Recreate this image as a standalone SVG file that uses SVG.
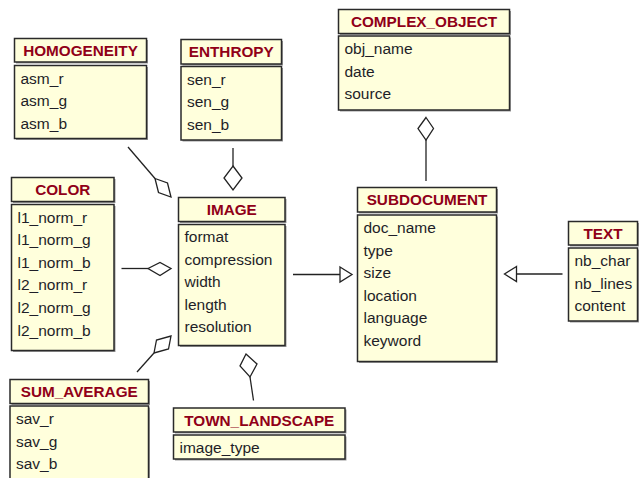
<svg xmlns="http://www.w3.org/2000/svg" width="639" height="478" viewBox="0 0 639 478">
<style>
.sh{fill:#9a9a9a}
.bx{fill:#FFFFDC;stroke:#2a2a2a;stroke-width:1.5}
.hd{font-family:"Liberation Sans",Arial,sans-serif;font-size:15.3px;font-weight:bold;fill:#900018;text-anchor:middle}
.at{font-family:"Liberation Sans",Arial,sans-serif;font-size:15.5px;fill:#1e1e28}
.ln{fill:none;stroke:#222;stroke-width:1.3}
.dm{fill:#fff;stroke:#222;stroke-width:1.3;stroke-linejoin:miter}
</style>
<rect width="639" height="478" fill="#fff"/>

<g id="connectors">
  <!-- HOMOGENEITY -> IMAGE aggregation -->
  <line class="ln" x1="128" y1="147" x2="155" y2="178.5"/>
  <polygon class="dm" points="155,178.5 167.5,183 171,197 158.5,192.5"/>
  <!-- ENTHROPY -> IMAGE -->
  <line class="ln" x1="233" y1="148" x2="233" y2="166"/>
  <polygon class="dm" points="233,166 242,178 233,190 224,178"/>
  <!-- COLOR -> IMAGE -->
  <line class="ln" x1="121.5" y1="268.5" x2="148" y2="268.5"/>
  <polygon class="dm" points="148,268.5 160,262.5 171,268.5 160,275.5"/>
  <!-- SUM_AVERAGE -> IMAGE -->
  <line class="ln" x1="137" y1="372" x2="154" y2="353"/>
  <polygon class="dm" points="154,353 156.5,340 171,336 168.5,349"/>
  <!-- TOWN_LANDSCAPE -> IMAGE -->
  <polygon class="dm" points="246,354 257,364 250,377 240,366"/>
  <line class="ln" x1="250" y1="377" x2="253.5" y2="400.5"/>
  <!-- SUBDOCUMENT -> COMPLEX_OBJECT -->
  <polygon class="dm" points="426,117.5 433.5,128.5 426,140 418,128.5"/>
  <line class="ln" x1="426" y1="140" x2="426" y2="181"/>
  <!-- IMAGE -> SUBDOCUMENT generalization -->
  <line class="ln" x1="293" y1="274.5" x2="340" y2="274.5"/>
  <polygon class="dm" points="340,267 352,274.5 340,282"/>
  <!-- TEXT -> SUBDOCUMENT generalization -->
  <line class="ln" x1="562.5" y1="274" x2="516.5" y2="274"/>
  <polygon class="dm" points="516.5,266.5 504.5,274 516.5,281.5"/>
</g>

<g id="homogeneity">
  <rect class="sh" x="16" y="40" width="132" height="23.5"/>
  <rect class="sh" x="16" y="67" width="132" height="73"/>
  <rect class="bx" x="14.5" y="38.5" width="132" height="23.5"/>
  <rect class="bx" x="14.5" y="65.5" width="132" height="73"/>
  <text class="hd" x="80.5" y="56">HOMOGENEITY</text>
  <text class="at" x="20.5" y="83.5">asm_r</text>
  <text class="at" x="20.5" y="106.1">asm_g</text>
  <text class="at" x="20.5" y="128.7">asm_b</text>
</g>

<g id="enthropy">
  <rect class="sh" x="182.5" y="41" width="100.5" height="24.5"/>
  <rect class="sh" x="182.5" y="68" width="100.5" height="73.5"/>
  <rect class="bx" x="181" y="39.5" width="100.5" height="24.5"/>
  <rect class="bx" x="181" y="66.5" width="100.5" height="73.5"/>
  <text class="hd" x="231.25" y="57">ENTHROPY</text>
  <text class="at" x="187" y="84.5">sen_r</text>
  <text class="at" x="187" y="107.1">sen_g</text>
  <text class="at" x="187" y="129.7">sen_b</text>
</g>

<g id="complex_object">
  <rect class="sh" x="340" y="11" width="171" height="24"/>
  <rect class="sh" x="340" y="37.5" width="171" height="74"/>
  <rect class="bx" x="338.5" y="9.5" width="171" height="24"/>
  <rect class="bx" x="338.5" y="36" width="171" height="74"/>
  <text class="hd" x="424" y="27">COMPLEX_OBJECT</text>
  <text class="at" x="344.5" y="54">obj_name</text>
  <text class="at" x="344.5" y="76.6">date</text>
  <text class="at" x="344.5" y="99.2">source</text>
</g>

<g id="color">
  <rect class="sh" x="13" y="179" width="102.5" height="24"/>
  <rect class="sh" x="13" y="206" width="102.5" height="146"/>
  <rect class="bx" x="11.5" y="177.5" width="102.5" height="24"/>
  <rect class="bx" x="11.5" y="204.5" width="102.5" height="146"/>
  <text class="hd" x="62.75" y="195">COLOR</text>
  <text class="at" x="17.5" y="222.5">l1_norm_r</text>
  <text class="at" x="17.5" y="245.1">l1_norm_g</text>
  <text class="at" x="17.5" y="267.7">l1_norm_b</text>
  <text class="at" x="17.5" y="290.3">l2_norm_r</text>
  <text class="at" x="17.5" y="312.9">l2_norm_g</text>
  <text class="at" x="17.5" y="335.5">l2_norm_b</text>
</g>

<g id="image">
  <rect class="sh" x="180" y="199" width="106.5" height="24"/>
  <rect class="sh" x="180" y="226" width="106.5" height="121"/>
  <rect class="bx" x="178.5" y="197.5" width="106.5" height="24"/>
  <rect class="bx" x="178.5" y="224.5" width="106.5" height="121"/>
  <text class="hd" x="231.75" y="215">IMAGE</text>
  <text class="at" x="184.5" y="242">format</text>
  <text class="at" x="184.5" y="264.6">compression</text>
  <text class="at" x="184.5" y="287.2">width</text>
  <text class="at" x="184.5" y="309.8">length</text>
  <text class="at" x="184.5" y="332.4">resolution</text>
</g>

<g id="subdocument">
  <rect class="sh" x="359" y="189" width="139" height="24.5"/>
  <rect class="sh" x="359" y="216.5" width="139" height="146.5"/>
  <rect class="bx" x="357.5" y="187.5" width="139" height="24.5"/>
  <rect class="bx" x="357.5" y="215" width="139" height="146.5"/>
  <text class="hd" x="427" y="205">SUBDOCUMENT</text>
  <text class="at" x="363.5" y="233">doc_name</text>
  <text class="at" x="363.5" y="255.6">type</text>
  <text class="at" x="363.5" y="278.2">size</text>
  <text class="at" x="363.5" y="300.8">location</text>
  <text class="at" x="363.5" y="323.4">language</text>
  <text class="at" x="363.5" y="346">keyword</text>
</g>

<g id="text">
  <rect class="sh" x="570" y="223" width="69" height="23.5"/>
  <rect class="sh" x="570" y="249.5" width="69" height="73"/>
  <rect class="bx" x="568.5" y="221.5" width="69" height="23.5"/>
  <rect class="bx" x="568.5" y="248" width="69" height="73"/>
  <text class="hd" x="603" y="239">TEXT</text>
  <text class="at" x="574.5" y="266">nb_char</text>
  <text class="at" x="574.5" y="288.6">nb_lines</text>
  <text class="at" x="574.5" y="311.2">content</text>
</g>

<g id="sum_average">
  <rect class="sh" x="11.5" y="381" width="138.5" height="24"/>
  <rect class="sh" x="11.5" y="407.5" width="138.5" height="90"/>
  <rect class="bx" x="10" y="379.5" width="138.5" height="24"/>
  <rect class="bx" x="10" y="406" width="138.5" height="90"/>
  <text class="hd" x="79.25" y="397">SUM_AVERAGE</text>
  <text class="at" x="16" y="424">sav_r</text>
  <text class="at" x="16" y="446.6">sav_g</text>
  <text class="at" x="16" y="469.2">sav_b</text>
</g>

<g id="town_landscape">
  <rect class="sh" x="175" y="409.5" width="171.5" height="24"/>
  <rect class="sh" x="175" y="436.5" width="171.5" height="24"/>
  <rect class="bx" x="173.5" y="408" width="171.5" height="24"/>
  <rect class="bx" x="173.5" y="435" width="171.5" height="24"/>
  <text class="hd" x="259.25" y="425.5">TOWN_LANDSCAPE</text>
  <text class="at" x="179.5" y="452.5">image_type</text>
</g>
</svg>
